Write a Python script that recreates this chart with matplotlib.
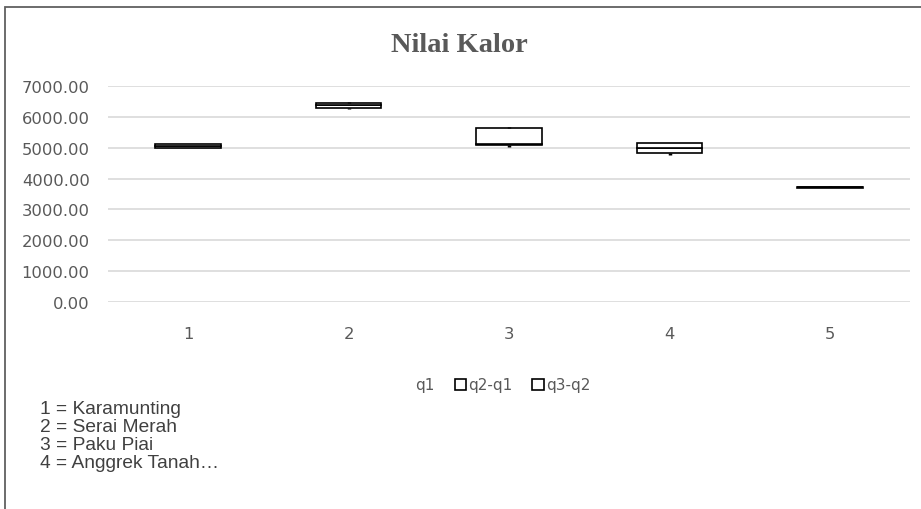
import matplotlib.pyplot as plt
from matplotlib.patches import Rectangle
import numpy as np

# five-number summary per plant sample
categories = ['1', '2', '3', '4', '5']
v_min = [4980, 6270, 5010, 4780, 3680]
q1 = [5000, 6300, 5090, 4820, 3700]
q2 = [5060, 6390, 5110, 4980, 3720]
q3 = [5120, 6450, 5640, 5140, 3740]
v_max = [5130, 6470, 5660, 5160, 3750]
notes = ['1 = Karamunting', '2 = Serai Merah', '3 = Paku Piai', '4 = Anggrek Tanah\u2026']

grey = '#595959'

fig = plt.figure(figsize=(9.21, 5.10), dpi=100)
fig.patches.append(Rectangle((5 / 921, -0.1), 1.2, 1.1 - 8 / 510,
                             transform=fig.transFigure, fill=False,
                             edgecolor='#606060', linewidth=1.3))

ax = fig.add_axes([107.75 / 921, 1 - 303 / 510, 802.5 / 921, 216 / 510])

x = np.arange(1, len(categories) + 1)
lo = np.array(q1)
mid = np.array(q2) - lo
hi = np.array(q3) - np.array(q2)
w = 0.405

ax.bar(x, lo, w, color='none', edgecolor='none', label='q1')
ax.bar(x, mid, w, bottom=lo, color='white', edgecolor='black',
       linewidth=1.2, label='q2-q1')
ax.bar(x, hi, w, bottom=q2, color='white', edgecolor='black',
       linewidth=1.2, label='q3-q2')
ax.errorbar(x, lo, yerr=[lo - np.array(v_min), np.zeros(len(x))],
            fmt='none', ecolor='black', elinewidth=2.5, capsize=0)
ax.errorbar(x, q3, yerr=[np.zeros(len(x)), np.array(v_max) - np.array(q3)],
            fmt='none', ecolor='black', elinewidth=2.5, capsize=0)

ax.set_xlim(0.5, len(categories) + 0.5)
ax.set_ylim(0, 7000)
ax.set_yticks(np.arange(0, 7001, 1000))
ax.yaxis.set_major_formatter(plt.FuncFormatter(lambda v, p: f'{v:.2f}'))
ax.set_xticks(x)
ax.set_xticklabels(categories)
ax.grid(axis='y', color='#d9d9d9', linewidth=1.2)
ax.set_axisbelow(True)
for s in ax.spines.values():
    s.set_visible(False)
ax.tick_params(length=0, labelsize=11.8, labelcolor=grey)
ax.tick_params(axis='y', pad=13)
ax.tick_params(axis='x', pad=17)

fig.text(459 / 921, 1 - 45 / 510, 'Nilai Kalor', ha='center', va='center',
         family='Liberation Serif', weight='bold', fontsize=20.5, color=grey)

leg = fig.legend(loc='center', bbox_to_anchor=(496 / 921, 1 - 386 / 510),
                 ncol=3, frameon=False, fontsize=11, labelcolor=grey,
                 handlelength=0.75, handleheight=0.75, handletextpad=0.15,
                 columnspacing=1.3)

for i, line in enumerate(notes):
    fig.text(40 / 921, 1 - (409 + i * 18.3) / 510, line, ha='left', va='center',
             family='Liberation Sans', fontsize=13.8, color='#404040')

fig.savefig('out.png', dpi=100)
